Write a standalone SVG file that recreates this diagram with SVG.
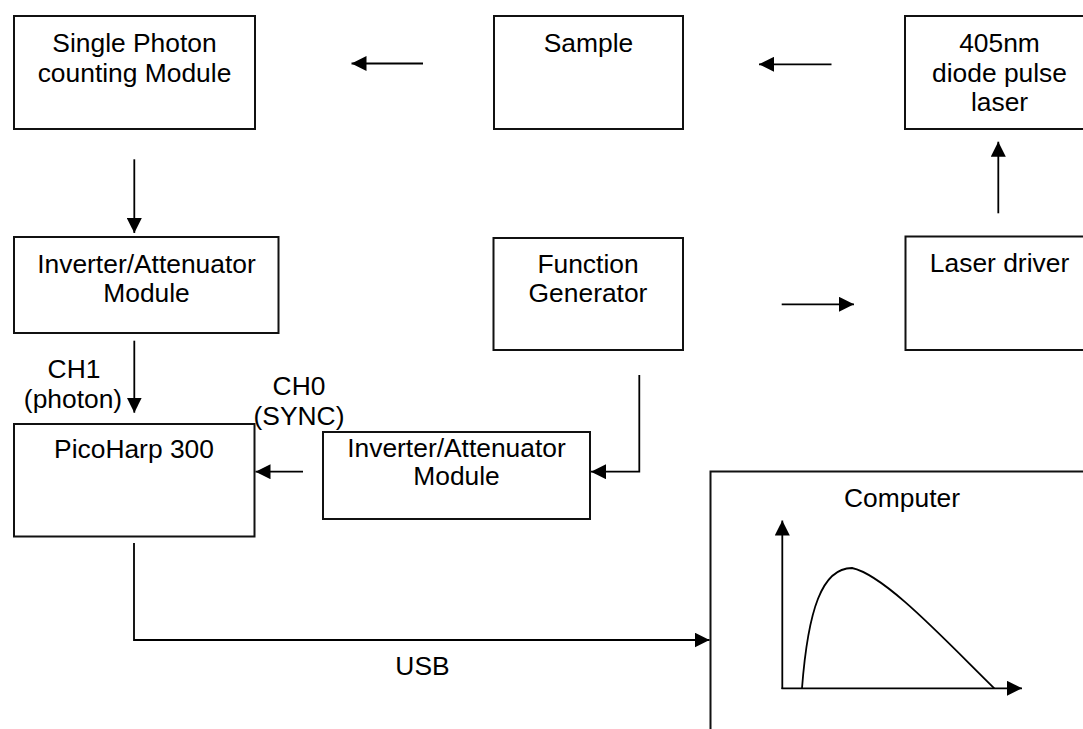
<svg xmlns="http://www.w3.org/2000/svg" width="1083" height="729" viewBox="0 0 1083 729">
  <defs>
    <marker id="arrow" viewBox="0 0 15 15" refX="15" refY="7.5" markerWidth="15" markerHeight="15" markerUnits="userSpaceOnUse" orient="auto">
      <path d="M0,0 L15,7.5 L0,15 z" fill="#000"/>
    </marker>
    <style>
      .box { fill: #fff; stroke: #111; stroke-width: 2; }
      .lbl { font-family: "Liberation Sans", Arial, sans-serif; font-size: 26.4px; fill: #000; text-anchor: middle; }
      .wire { fill: none; stroke: #000; stroke-width: 1.8; }
      .arr { marker-end: url(#arrow); }
    </style>
  </defs>
  <rect width="1083" height="729" fill="#fff"/>

  <!-- Nodes -->
  <g id="spcm">
    <rect class="box" x="14" y="16" width="241" height="113"/>
    <text class="lbl" x="134.5" y="52">Single Photon</text>
    <text class="lbl" x="134.5" y="82">counting Module</text>
  </g>
  <g id="sample">
    <rect class="box" x="494" y="16" width="189" height="113"/>
    <text class="lbl" x="588.5" y="52">Sample</text>
  </g>
  <g id="laser">
    <rect class="box" x="905" y="16" width="190" height="113"/>
    <text class="lbl" x="999.5" y="52">405nm</text>
    <text class="lbl" x="999.5" y="82">diode pulse</text>
    <text class="lbl" x="999.5" y="111">laser</text>
  </g>
  <g id="inv-att-1">
    <rect class="box" x="14" y="237" width="264.5" height="96"/>
    <text class="lbl" x="146.5" y="273">Inverter/Attenuator</text>
    <text class="lbl" x="146.5" y="302">Module</text>
  </g>
  <g id="function-generator">
    <rect class="box" x="493.5" y="238" width="189.5" height="112"/>
    <text class="lbl" x="588" y="273">Function</text>
    <text class="lbl" x="588" y="302">Generator</text>
  </g>
  <g id="laser-driver">
    <rect class="box" x="905.5" y="236.5" width="190" height="113.5"/>
    <text class="lbl" x="999.5" y="272">Laser driver</text>
  </g>
  <g id="picoharp">
    <rect class="box" x="14" y="424" width="240.5" height="112.5"/>
    <text class="lbl" x="134" y="458">PicoHarp 300</text>
  </g>
  <g id="inv-att-2">
    <rect class="box" x="323" y="432" width="267" height="87"/>
    <text class="lbl" x="456.5" y="457">Inverter/Attenuator</text>
    <text class="lbl" x="456.5" y="485">Module</text>
  </g>
  <g id="computer">
    <rect class="box" x="710.5" y="471.5" width="400" height="300"/>
    <text class="lbl" x="902" y="507">Computer</text>
    <!-- decay histogram sketch -->
    <line class="wire arr" x1="782.3" y1="689" x2="782.3" y2="520.5"/>
    <line class="wire arr" x1="781.5" y1="688.3" x2="1022" y2="688.3"/>
    <path class="wire" d="M802,688.3 C808,610 822,568 852,568 C885,575 945,640 994.3,688.3"/>
  </g>

  <!-- Connectors -->
  <g id="connectors">
    <line class="wire arr" x1="423" y1="63.5" x2="351.5" y2="63.5"/>
    <line class="wire arr" x1="831.5" y1="64.3" x2="759" y2="64.3"/>
    <line class="wire arr" x1="134.3" y1="159.3" x2="134.3" y2="233"/>
    <line class="wire arr" x1="998.3" y1="213.3" x2="998.3" y2="141.7"/>
    <line class="wire arr" x1="781.7" y1="304.3" x2="854" y2="304.3"/>
    <line class="wire arr" x1="134.3" y1="340.7" x2="134.3" y2="412.7"/>
    <polyline class="wire arr" points="639.3,375 639.3,471.7 591,471.7"/>
    <line class="wire arr" x1="303" y1="471.7" x2="255.5" y2="471.7"/>
    <polyline class="wire arr" points="134,543 134,640 709.5,640"/>
    <text class="lbl" x="74" y="378">CH1</text>
    <text class="lbl" x="73" y="408">(photon)</text>
    <text class="lbl" x="299" y="395">CH0</text>
    <text class="lbl" x="299" y="425">(SYNC)</text>
    <text class="lbl" x="422.5" y="675">USB</text>
  </g>
</svg>
